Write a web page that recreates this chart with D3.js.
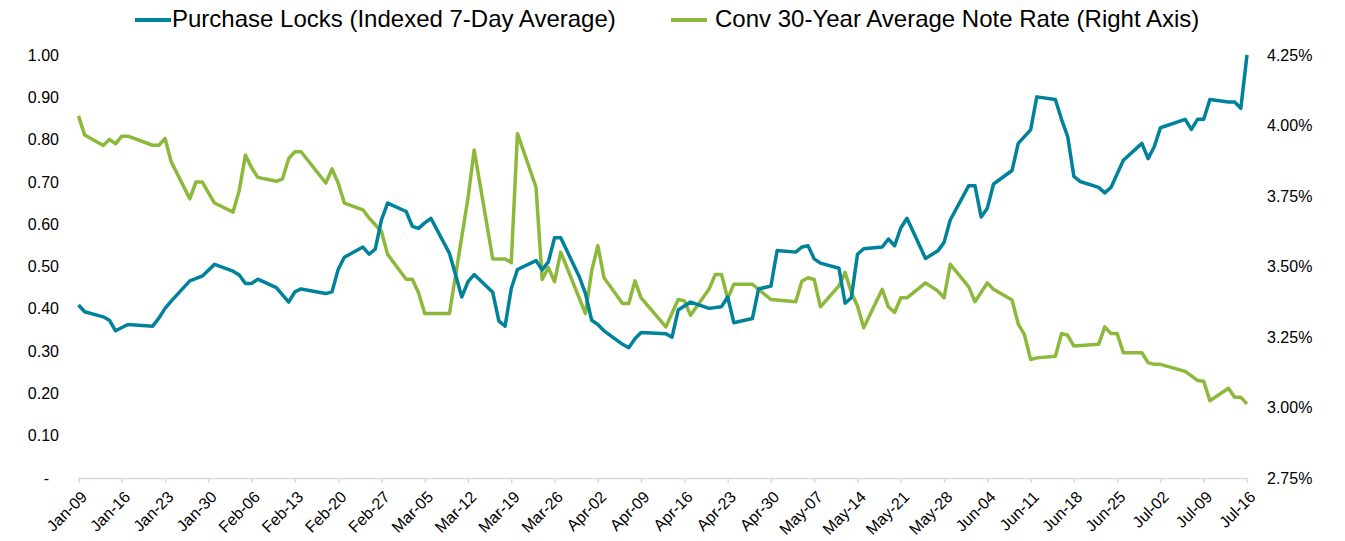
<!DOCTYPE html>
<html>
<head>
<meta charset="utf-8">
<script src="https://cdn.jsdelivr.net/npm/d3@7"></script>
<style>
  body { margin: 0; background: #fff; }
  svg text { font-family: "Liberation Sans", Arial, sans-serif; fill: #000; }
</style>
</head>
<body>
<div id="chart"></div>
<script>
// start of the series; x values are day offsets from this date
var startDate = new Date(2020, 0, 9);

// Purchase Locks (Indexed 7-Day Average), left axis
var lockDays = [0,1,4,5,6,8,12,13,14,15,18,20,22,25,26,27,28,29,32,34,35,36,40,41,42,43,46,47,48,49,
  50,53,54,55,56,57,60,61,62,63,64,67,68,69,70,71,74,75,76,77,78,81,82,83,84,85,88,89,90,91,
  95,96,97,99,102,104,105,106,109,110,112,113,116,117,118,119,120,123,124,125,126,127,130,131,132,133,134,137,139,140,
  141,144,145,146,147,148,151,152,154,155,158,159,160,161,162,165,166,167,169,172,173,174,175,179,180,181,182,183,186,187,188,189];
var lockValues = [0.409,0.393,0.381,0.373,0.348,0.363,0.359,0.378,0.401,0.418,0.466,0.477,0.505,0.489,0.480,0.460,0.460,0.470,0.450,0.416,
  0.440,0.447,0.436,0.440,0.493,0.522,0.546,0.529,0.541,0.610,0.650,0.630,0.595,0.590,0.603,0.614,0.531,0.480,0.428,0.464,
  0.481,0.439,0.371,0.359,0.448,0.493,0.514,0.492,0.511,0.568,0.568,0.476,0.436,0.373,0.363,0.348,0.316,0.308,0.329,0.344,
  0.341,0.333,0.397,0.416,0.401,0.405,0.428,0.367,0.377,0.447,0.454,0.538,0.534,0.546,0.549,0.518,0.508,0.496,0.413,0.426,
  0.529,0.542,0.546,0.565,0.549,0.591,0.614,0.519,0.537,0.557,0.610,0.691,0.691,0.617,0.638,0.695,0.727,0.791,0.823,0.901,
  0.895,0.848,0.807,0.713,0.701,0.687,0.674,0.687,0.751,0.791,0.755,0.783,0.828,0.848,0.824,0.848,0.848,0.895,0.889,0.889,
  0.874,1.000];

// Conv 30-Year Average Note Rate, right axis (%)
var rateDays = [0,1,4,5,6,7,8,12,13,14,15,18,19,20,22,25,26,27,28,29,32,33,34,35,36,40,41,42,43,46,
  47,49,50,53,54,55,56,60,63,64,67,69,70,71,74,75,76,77,78,82,83,84,85,88,89,90,91,95,97,98,
  99,102,103,104,105,106,109,112,116,117,118,119,120,123,124,125,126,127,130,131,132,133,134,137,139,140,141,144,145,147,
  148,151,152,153,154,155,158,159,160,161,165,166,167,168,169,172,173,174,175,179,181,182,183,186,187,188,189];
var rateValues = [4.034,3.966,3.929,3.951,3.935,3.962,3.962,3.930,3.930,3.954,3.871,3.740,3.800,3.800,3.725,3.693,3.770,3.895,3.850,3.816,
  3.802,3.811,3.883,3.907,3.907,3.796,3.846,3.796,3.725,3.701,3.672,3.624,3.543,3.455,3.455,3.407,3.333,3.333,3.743,3.913,
  3.527,3.527,3.514,3.972,3.781,3.454,3.496,3.446,3.551,3.333,3.484,3.574,3.460,3.369,3.369,3.449,3.389,3.286,3.383,3.378,
  3.327,3.420,3.472,3.472,3.387,3.437,3.437,3.383,3.375,3.448,3.460,3.454,3.357,3.431,3.479,3.408,3.360,3.283,3.419,3.357,
  3.337,3.389,3.389,3.442,3.413,3.389,3.508,3.428,3.375,3.442,3.419,3.381,3.296,3.258,3.170,3.176,3.182,3.262,3.256,3.218,
  3.224,3.286,3.262,3.262,3.194,3.194,3.159,3.153,3.153,3.128,3.096,3.093,3.024,3.068,3.036,3.036,3.013];

var leftTicks = [0,0.1,0.2,0.3,0.4,0.5,0.6,0.7,0.8,0.9,1.0];
var rightTicks = [2.75,3.00,3.25,3.50,3.75,4.00,4.25];
var tickDays = [0,7,14,21,28,35,42,49,56,63,70,77,84,91,98,105,112,119,126,133,140,147,154,161,168,175,182,189];

var lockName = "Purchase Locks (Indexed 7-Day Average)";
var rateName = "Conv 30-Year Average Note Rate (Right Axis)";
var blue = "#00829b", green = "#8cb93a";

var w = 1345, h = 541;
var x0 = 78.5, x1 = 1247, yBottom = 478, yTop = 55;

var svg = d3.select("#chart").append("svg")
  .attr("width", w).attr("height", h);

var day = function(d) { return d3.timeDay.offset(startDate, d); };

var x = d3.scaleTime()
  .domain([startDate, day(189)])
  .range([x0, x1]);
var yL = d3.scaleLinear().domain([0, 1]).range([yBottom, yTop]);
var yR = d3.scaleLinear().domain([2.75, 4.25]).range([yBottom, yTop]);

// x axis
var xAxis = d3.axisBottom(x)
  .tickValues(tickDays.map(day))
  .tickSizeInner(5).tickSizeOuter(0)
  .tickFormat(d3.timeFormat("%b-%d"));
var gx = svg.append("g").attr("transform", "translate(0," + yBottom + ")").call(xAxis);
gx.select(".domain").attr("stroke", "#d9d9d9").attr("stroke-width", 1.5);
gx.selectAll(".tick line").attr("stroke", "#d9d9d9").attr("stroke-width", 1.5);
gx.selectAll(".tick text")
  .attr("x", 0).attr("y", 0).attr("dy", "0.35em")
  .attr("text-anchor", "end")
  .attr("transform", "translate(5,16) rotate(-45)")
  .style("font-size", "16px");

// left axis
var gl = svg.append("g").attr("transform", "translate(59,0)")
  .call(d3.axisLeft(yL).tickValues(leftTicks).tickSize(0).tickPadding(0)
    .tickFormat(function(d) { return d === 0 ? "-" : d3.format(".2f")(d); }));
gl.select(".domain").remove();
gl.selectAll(".tick text").style("font-size", "16px")
  .attr("dx", function(d) { return d === 0 ? -10 : 0; });

// right axis
var gr = svg.append("g").attr("transform", "translate(1267,0)")
  .call(d3.axisRight(yR).tickValues(rightTicks).tickSize(0).tickPadding(0)
    .tickFormat(function(d) { return d3.format(".2f")(d) + "%"; }));
gr.select(".domain").remove();
gr.selectAll(".tick text").style("font-size", "16px");

// lines
var lockLine = d3.line()
  .x(function(d, i) { return x(day(lockDays[i])); })
  .y(function(d) { return yL(d); });
var rateLine = d3.line()
  .x(function(d, i) { return x(day(rateDays[i])); })
  .y(function(d) { return yR(d); });

svg.append("path").datum(rateValues)
  .attr("d", rateLine).attr("fill", "none")
  .attr("stroke", green).attr("stroke-width", 3.5).attr("stroke-linejoin", "round");
svg.append("path").datum(lockValues)
  .attr("d", lockLine).attr("fill", "none")
  .attr("stroke", blue).attr("stroke-width", 3.5).attr("stroke-linejoin", "round");

// legend
var legend = [
  {name: lockName, color: blue, x: 135, gap: 37},
  {name: rateName, color: green, x: 671, gap: 44}
];
var lg = svg.selectAll(".legend").data(legend).enter().append("g")
  .attr("class", "legend")
  .attr("transform", function(d) { return "translate(" + d.x + ",20)"; });
lg.append("line").attr("x1", 0).attr("x2", 36).attr("y1", 0).attr("y2", 0)
  .attr("stroke", function(d) { return d.color; }).attr("stroke-width", 4);
lg.append("text").attr("x", function(d) { return d.gap; }).attr("y", 7)
  .style("font-size", "24px")
  .text(function(d) { return d.name; });
</script>
</body>
</html>
